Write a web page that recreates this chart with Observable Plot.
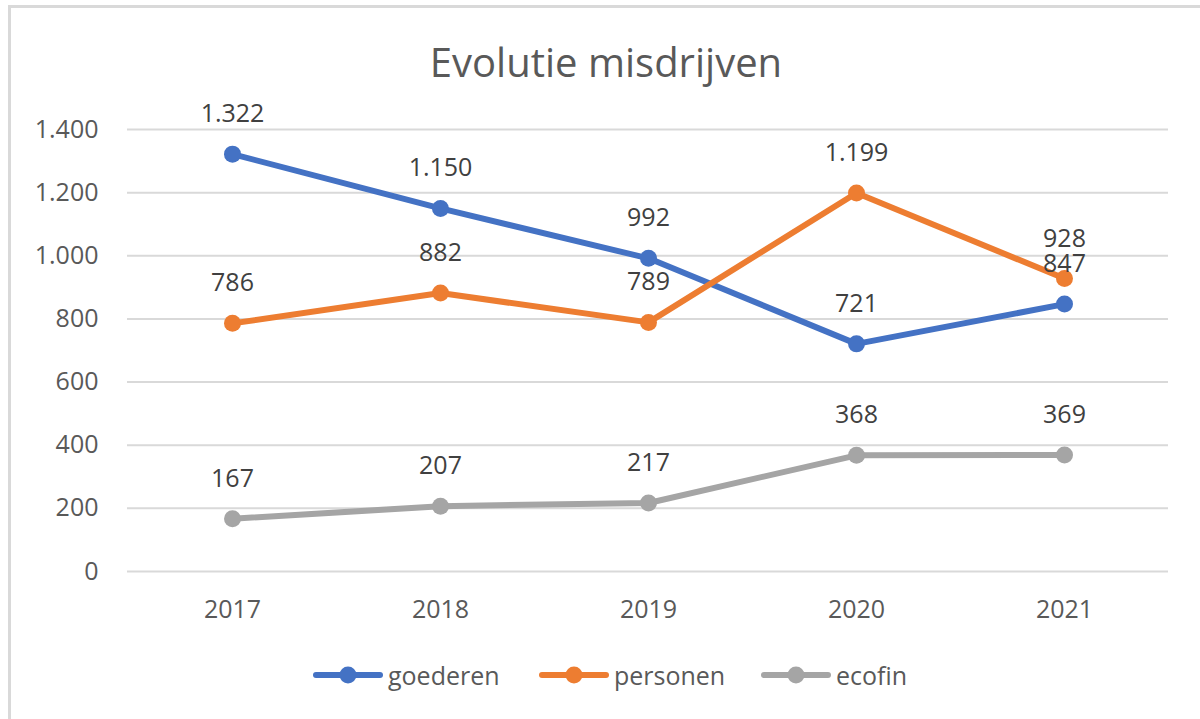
<!DOCTYPE html>
<html>
<head>
<meta charset="utf-8">
<script src="https://cdn.jsdelivr.net/npm/d3@7"></script>
<script src="https://cdn.jsdelivr.net/npm/@observablehq/plot@0.6"></script>
<style>
  html, body { margin: 0; padding: 0; background: #fff; }
  #wrap { position: relative; width: 1200px; height: 719px; overflow: hidden; font-family: "Open Sans", sans-serif; }
  #bt { position: absolute; left: 8px; top: 5px; width: 1192px; height: 3px; background: #d9d9d9; }
  #bl { position: absolute; left: 8px; top: 5px; width: 3px; height: 714px; background: #d9d9d9; }
  #title { position: absolute; left: 0; width: 1212px; top: 36px; text-align: center; font-size: 40px; color: #595959; line-height: 52px; }
  #chart { position: absolute; left: 0; top: 0; }
  .leg { position: absolute; top: 658px; height: 34px; display: flex; align-items: center; font-size: 25px; color: #595959; }
  .leg svg { margin-right: 5px; }
</style>
</head>
<body>
<div id="wrap">
  <div id="bt"></div>
  <div id="bl"></div>
  <div id="chart"></div>
  <div id="title">Evolutie misdrijven</div>
  <div id="legend"></div>
</div>
<script>
const years = ["2017", "2018", "2019", "2020", "2021"];
const series = ["goederen", "personen", "ecofin"];
const goederen = [1322, 1150, 992, 721, 847];
const personen = [786, 882, 789, 1199, 928];
const ecofin = [167, 207, 217, 368, 369];
const colors = ["#4472C4", "#ED7D31", "#A5A5A5"];
const yTicks = [0, 200, 400, 600, 800, 1000, 1200, 1400];
const legendLeft = [313, 539, 761];

const values = { goederen, personen, ecofin };
const data = series.flatMap(s => years.map((yr, i) => ({ series: s, year: yr, value: values[s][i] })));

const nl = d3.formatLocale({ decimal: ",", thousands: ".", grouping: [3], currency: ["€", ""] });
const fmt = nl.format(",d");

const chart = Plot.plot({
  width: 1200,
  height: 719,
  marginLeft: 127,
  marginRight: 32,
  marginTop: 129,
  marginBottom: 148,
  style: { fontFamily: "Open Sans, sans-serif", fontSize: "25px", background: "transparent", overflow: "visible" },
  x: { type: "point", domain: years, padding: 0.5, label: null },
  y: { domain: [0, 1400], label: null },
  color: { domain: series, range: colors },
  marks: [
    Plot.ruleY(yTicks, { stroke: "#d9d9d9", strokeWidth: 2 }),
    Plot.axisY({ ticks: yTicks, tickSize: 0, tickPadding: 29, tickFormat: fmt, fontSize: 25, fill: "#595959", label: null }),
    Plot.axisX({ tickSize: 0, tickPadding: 29, fontSize: 25, fill: "#595959", label: null }),
    Plot.line(data, { x: "year", y: "value", z: "series", stroke: "series", strokeWidth: 6, strokeLinejoin: "round", strokeLinecap: "round" }),
    Plot.dot(data, { x: "year", y: "value", fill: "series", r: 8.5 }),
    Plot.text(data, { x: "year", y: "value", text: d => fmt(d.value), dy: -40, fontSize: 25, fill: "#404040" })
  ]
});
document.getElementById("chart").appendChild(chart);

const legend = document.getElementById("legend");
series.forEach((s, i) => {
  const item = document.createElement("div");
  item.className = "leg";
  item.style.left = legendLeft[i] + "px";
  item.innerHTML = `<svg width="70" height="20"><line x1="3" y1="10" x2="67" y2="10" stroke="${colors[i]}" stroke-width="6" stroke-linecap="round"/><circle cx="35" cy="10" r="8.5" fill="${colors[i]}"/></svg><span>${s}</span>`;
  legend.appendChild(item);
});
</script>
</body>
</html>
